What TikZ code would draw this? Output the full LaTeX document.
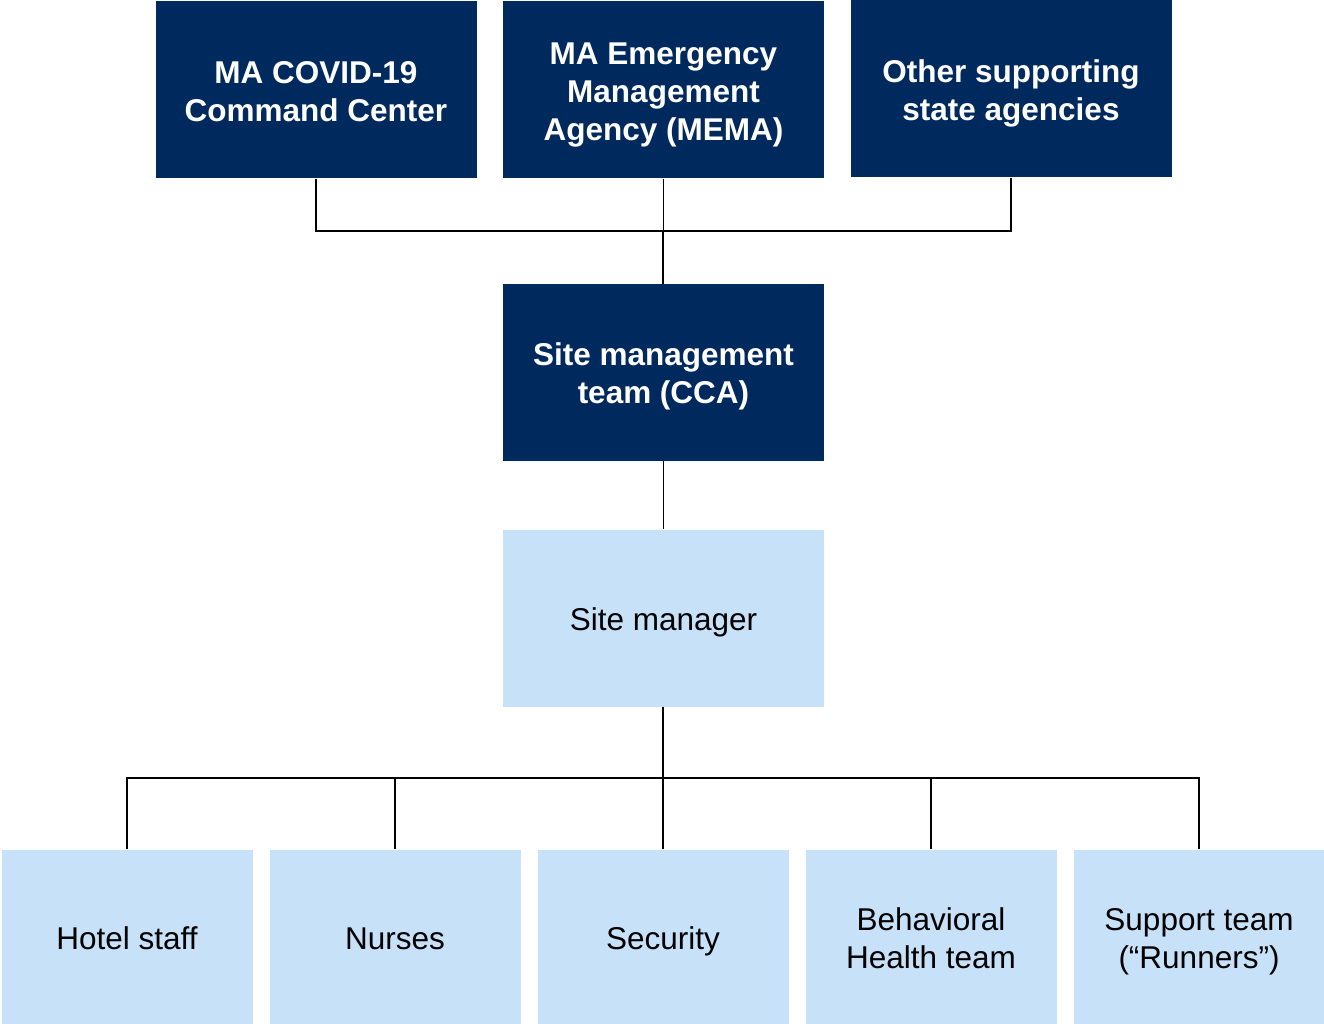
\documentclass[tikz,border=0pt]{standalone}
\usepackage{fontspec}
\setmainfont{Liberation Sans}
\definecolor{navy}{RGB}{0,41,94}
\definecolor{lightbl}{RGB}{199,225,249}
\newcommand\ls{\rule[-6.8pt]{0pt}{37.8pt}}
\begin{document}
\begin{tikzpicture}[x=1pt,y=-1pt,
  dark/.style={fill=navy,text=white,font=\fontsize{31.5}{38}\selectfont\bfseries,align=center,inner sep=0pt},
  light/.style={fill=lightbl,text=black,font=\fontsize{31.5}{38}\selectfont,align=center,inner sep=0pt},
  conn/.style={draw=black,line width=1.7pt},
  thick conn/.style={draw=black,line width=2.5pt}]
\useasboundingbox (0,0) rectangle (1324,1024);
% top row
\node[dark,minimum width=321pt,minimum height=177pt] (cmd) at (316,90) {\ls MA COVID-19\\\ls Command Center};
\node[dark,minimum width=321pt,minimum height=177pt] (mema) at (663.5,90) {\ls MA Emergency\\\ls Management\\\ls Agency (MEMA)};
\node[dark,minimum width=321pt,minimum height=177pt] (other) at (1011,89) {\ls Other supporting\\\ls state agencies};
% middle
\node[dark,minimum width=321pt,minimum height=177pt] (smt) at (663.5,372.5) {\ls Site management\\\ls team (CCA)};
\node[light,minimum width=321pt,minimum height=177pt] (sm) at (663.5,618) {\ls Site manager};
% bottom
\node[light,minimum width=251pt,minimum height=175pt] (hotel) at (127,937) {\ls Hotel staff};
\node[light,minimum width=251pt,minimum height=175pt] (nurse) at (395,937) {\ls Nurses};
\node[light,minimum width=251pt,minimum height=175pt] (sec) at (663,937) {\ls Security};
\node[light,minimum width=251pt,minimum height=175pt] (beh) at (931,937) {\ls Behavioral\\\ls Health team};
\node[light,minimum width=251pt,minimum height=175pt] (sup) at (1199,937) {\ls Support team\\\ls (“Runners”)};
% junctions
\coordinate (jt) at (663,231);
\coordinate (jb) at (663,778);
% top connectors
\draw[conn,line width=1.4pt] (cmd.south) |- (jt);
\draw[conn,line width=1.4pt] (other.south) |- (jt);
\draw[conn,line width=1.4pt] (mema.south) -- (mema.south |- jt);
\draw[thick conn] (jt) -- (smt.north -| jt);
\draw[conn,line width=1.4pt] (smt.south) -- (sm.north);
% bottom connectors
\draw[conn,line width=2pt] (sm.south -| jb) -- (jb);
\draw[conn] (hotel.north) |- (jb);
\draw[conn] (sup.north) |- (jb);
\draw[conn] (nurse.north) -- (nurse.north |- jb);
\draw[conn] (sec.north) -- (jb);
\draw[conn] (beh.north) -- (beh.north |- jb);
\end{tikzpicture}
\end{document}
